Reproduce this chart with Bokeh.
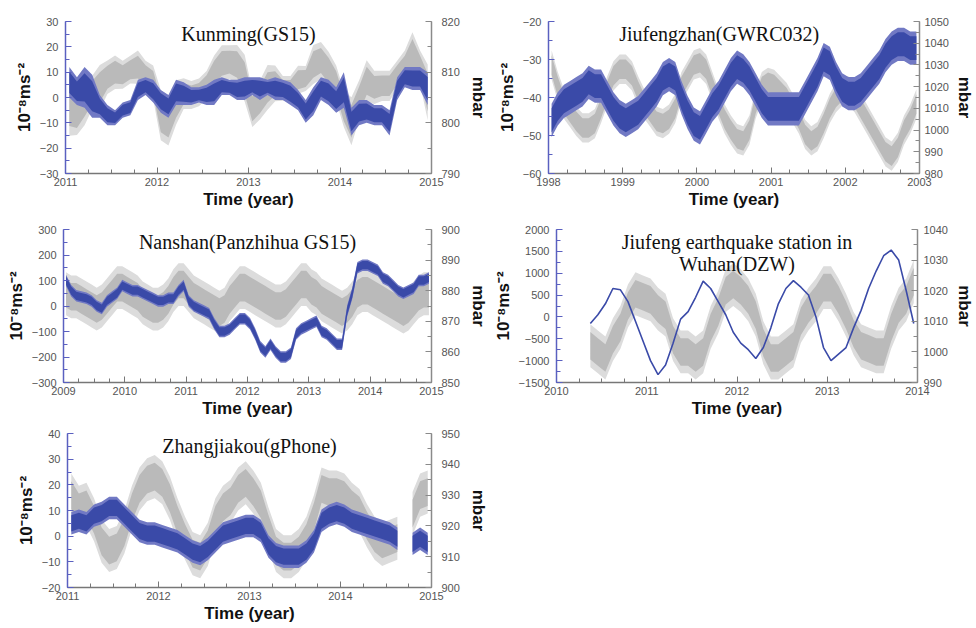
import math
from bokeh.plotting import figure
from bokeh.models import (Range1d, LinearAxis, SingleIntervalTicker, Label)
from bokeh.layouts import column, row
from bokeh.embed import file_html
from bokeh.resources import INLINE

nan = float("nan")

# ---------------- data ----------------
# Kunming(GS15): monthly Jan 2011 .. Dec 2014 (low / high of the noisy trace)
KM_START = 2011
KM_BLUE_HI = [12, 8, 12, 9, 1, -3, -5, -2, -1, 7, 8, 7,
              3, 1, 7, 6, 4, 4, 5, 7, 8, 7, 7, 8,
              8, 8, 7, 8, 7, 6, 3, -1, 4, 8, 7, 4,
              10, -4, -1, -1, -3, -3, -5, 8, 12, 12, 12, 10]
KM_BLUE_LO = [0, -3, -4, -8, -8, -11, -11, -8, -7, -1, 1, -2,
              -6, -8, -3, -3, -3, -2, -3, -3, 1, 1, -1, -1,
              1, -1, 1, -1, -1, -3, -5, -10, -7, -1, -3, -6,
              -4, -15, -11, -10, -11, -11, -15, -1, 4, 3, 3, -3]
KM_GRAY_HI = [809, 806, 810, 809, 811, 812, 813, 812, 813, 814, 812, 811,
              806, 805, 808, 808.5, 808, 808.5, 810, 813, 815, 815, 815, 813,
              806, 808, 811, 811, 809, 809, 811, 811, 815, 815.6, 813.7, 811,
              806, 804.6, 808, 812, 810, 810, 810, 812, 814, 817.5, 814, 811]
KM_GRAY_LO = [798, 798, 800, 803, 803, 806, 807, 807, 808, 808, 807, 805,
              797, 796, 800, 803, 803, 803.5, 805, 807, 808.5, 809, 808, 804.6,
              799.5, 801, 803, 804.6, 804.6, 804.6, 806, 806.5, 808, 809, 807, 804.6,
              799.5, 796, 801, 804.6, 804, 804.6, 804.6, 807, 808, 810, 808, 801]

# Jiufengzhan(GWRC032): monthly Jan 1998 .. Dec 2002 (centres) + half spread
JF_START = 1998
JF_BLUE = [-46, -43, -41, -40, -39, -38, -36, -37, -37, -40, -43, -45,
           -46, -45, -44, -42, -40, -38, -35, -34, -35, -40, -44, -47,
           -48, -45, -42, -40, -37, -34, -32, -33, -35, -38, -41, -43,
           -43, -43, -43, -43, -43, -40, -37, -34, -30, -31, -35, -38,
           -39, -39, -38, -36, -34, -32, -29, -27, -26, -26, -27, -27]
JF_BLUE_SPREAD = 3.5
JF_GRAY = [1030, 1020, 1012, 1008, 1004, 1001, 1001, 1003, 1010, 1018, 1025, 1028,
           1028, 1025, 1018, 1012, 1008, 1004, 1003, 1005, 1010, 1020, 1025, 1030,
           1031, 1028, 1020, 1012, 1005, 1000, 996, 995, 1000, 1012, 1020, 1022,
           1021, 1018, 1015, 1010, 1005, 998, 995, 997, 1003, 1010, 1015, 1018,
           1018, 1015, 1010, 1005, 1000, 995, 990, 988, 992, 1000, 1005, 1012]
JF_GRAY_SPREAD = 5

# Nanshan(Panzhihua GS15): monthly Jan 2009 .. Dec 2014
NS_START = 2009
NS_BLUE = [100, 60, 40, 35, 30, 20, 0, -10, 20, 35, 50, 80,
           70, 60, 60, 50, 40, 30, 20, 20, 30, 30, 60, 80,
           20, 0, -10, -20, -30, -70, -100, -100, -90, -70, -50, -50,
           -70, -110, -160, -180, -150, -180, -200, -200, -185, -110, -90, -80,
           -70, -60, -100, -110, -130, -150, -150, -20, 50, 150, 160, 160,
           150, 140, 110, 100, 80, 60, 50, 60, 70, 100, 100, 110]
NS_BLUE_SPREAD = 18
NS_GRAY = [879, 878, 878, 877, 876, 875, 874, 875, 877, 879, 881, 881,
           880, 879, 878, 876, 875, 874, 874, 875, 877, 880, 882, 882,
           880, 878, 877, 876, 875, 874, 873, 874, 877, 879, 881, 881,
           880, 879, 878, 877, 876, 875, 875, 876, 878, 880, 882, 882,
           880, 879, 877, 876, 875, 874, 873, 874, 876, 879, 880, 880,
           879, 878, 877, 876, 875, 874, 873, 874, 876, 878, 879, 879]
NS_GRAY_SPREAD = 5

# Jiufeng earthquake station in Wuhan(DZW): monthly May 2010 .. Dec 2013
DZW_START = 2010 + 4 / 12
DZW_BLUE = [-150, 50, 300, 650, 620, 350, -100, -550,
            -1000, -1320, -1100, -600, -50, 120, 450, 820, 650, 350, 50, -350,
            -600, -750, -950, -700, -250, 300, 650, 830, 680, 500, 0, -700,
            -1000, -850, -700, -250, 150, 650, 1050, 1400, 1530, 1300, 600, -150]
DZW_GRAY = [1002, 1000, 998, 1004, 1008, 1015, 1019, 1018,
            1017, 1014, 1012, 1004, 1000, 1000, 998, 1000, 1008, 1013, 1020, 1022,
            1020, 1017, 1012, 1003, 998, 998, 1000, 1002, 1010, 1014, 1017, 1021,
            1021, 1017, 1012, 1006, 1002, 1001, 1000, 1000, 1008, 1014, 1017, 1023]
DZW_GRAY_SPREAD = 5

# Zhangjiakou(gPhone): monthly Jan 2011 .. Dec 2014 (gap Sep 2014)
ZJ_START = 2011
ZJ_BLUE = [5, 6, 5, 8, 9, 11, 11, 8, 5, 2, 1, 1,
           0, -1, -2, -4, -6, -7, -5, -2, 1, 2, 3, 4,
           4, 2, -4, -7, -8, -8, -8, -6, -2, 6, 8, 9,
           8, 6, 5, 4, 3, 2, 1, -1, nan, -3, -1, -3]
ZJ_BLUE_SPREAD = 3.5
ZJ_GRAY = [930, 926, 927, 922, 915, 912, 913, 918, 926, 932, 935, 936,
           934, 929, 922, 916, 911, 910, 914, 922, 926, 928, 932, 934,
           931, 927, 919, 912, 910, 910, 912, 916, 923, 932, 931, 931,
           930, 927, 925, 920, 916, 914, 915, 916, nan, 924, 930, 931]
ZJ_GRAY_SPREAD = 5

# ---------------- styling ----------------
BLUE = "#3a4aa8"
BLUE_FRINGE = "#7179c4"
GRAY = "#bababa"
GRAY_FRINGE = "#dcdcdc"
LEFT_AXIS = "#5a60c0"
RIGHT_AXIS = "#8a8a8a"
TICK_TXT = "#555555"
SANS = "Liberation Sans"
SERIF = "Liberation Serif"
YLABEL = "10\u207b\u2078ms\u207b\u00b2"


def months(start, n):
    return [start + (i + 0.5) / 12 for i in range(n)]


def runs(xs, lo, hi):
    out, cur = [], ([], [], [])
    for x, a, b in zip(xs, lo, hi):
        if math.isnan(a) or math.isnan(b):
            if cur[0]:
                out.append(cur)
            cur = ([], [], [])
        else:
            cur[0].append(x); cur[1].append(a); cur[2].append(b)
    if cur[0]:
        out.append(cur)
    return out


def band(p, xs, lo, hi, color, fringe, k_in, k_out, y_range_name="default"):
    # lighter outer fringe (noise spikes) + solid core band
    c = [(a + b) / 2 for a, b in zip(lo, hi)]
    h = [(b - a) / 2 for a, b in zip(lo, hi)]
    for k, col in ((k_out, fringe), (k_in, color)):
        l2 = [ci - k * hh for ci, hh in zip(c, h)]
        h2 = [ci + k * hh for ci, hh in zip(c, h)]
        for rx, rl, rh in runs(xs, l2, h2):
            p.varea(x=rx, y1=rl, y2=rh, fill_color=col, y_range_name=y_range_name)


def centred(vals, s):
    return [v - s for v in vals], [v + s for v in vals]


def make_panel(xr, yl, yl_step, yr, yr_step, width, height, borders,
               rl_standoff=8, rax_standoff=5):
    top, right, bottom, left = borders
    p = figure(width=width, height=height, output_backend="svg",
               toolbar_location=None, x_range=Range1d(*xr), y_range=Range1d(*yl),
               min_border_top=top, min_border_right=right,
               min_border_bottom=bottom, min_border_left=left,
               x_axis_label="Time (year)", y_axis_label=YLABEL)
    p.extra_y_ranges = {"p": Range1d(*yr)}
    p.outline_line_color = None
    p.grid.visible = False
    p.background_fill_color = "white"
    p.border_fill_color = "white"

    xa = p.xaxis[0]
    xa.ticker = SingleIntervalTicker(interval=1, num_minor_ticks=4)
    ya = p.yaxis[0]
    ya.ticker = SingleIntervalTicker(interval=yl_step, num_minor_ticks=2)
    ra = LinearAxis(y_range_name="p", axis_label="mbar",
                    ticker=SingleIntervalTicker(interval=yr_step, num_minor_ticks=2))
    p.add_layout(ra, "right")

    for ax, col in ((xa, "#777777"), (ya, LEFT_AXIS), (ra, RIGHT_AXIS)):
        ax.axis_line_color = col
        ax.axis_line_width = 1.5
        ax.major_tick_line_color = col
        ax.minor_tick_line_color = col
        ax.major_tick_in = 6
        ax.major_tick_out = 0
        ax.minor_tick_in = 4
        ax.minor_tick_out = 0
        ax.major_label_text_font = SANS
        ax.major_label_text_font_size = "11px"
        ax.major_label_text_color = TICK_TXT
        ax.axis_label_text_font = SANS
        ax.axis_label_text_font_style = "bold"
        ax.axis_label_text_font_size = "17px"
        ax.axis_label_text_color = "#111111"
    xa.major_label_standoff = 4
    xa.axis_label_standoff = 1
    ya.major_label_standoff = 7
    ya.axis_label_standoff = 3
    ra.major_label_standoff = rl_standoff
    ra.axis_label_standoff = rax_standoff
    return p


def title(p, text, x, y, dy=-1):
    # annotations are clipped to the frame, so the title sits just inside its top edge
    p.add_layout(Label(x=x, y=y, y_offset=dy, text=text, text_align="center",
                       text_baseline="top", text_font=SERIF,
                       text_font_size="20px", text_color="#111111"))


# ---------- Panel 1: Kunming ----------
p1 = make_panel((2011, 2015), (-30, 30), 10, (790, 820), 10, 490, 214, (21, 55, 38, 65),
                rl_standoff=10, rax_standoff=6)
x = months(KM_START, len(KM_BLUE_HI))
band(p1, x, KM_GRAY_LO, KM_GRAY_HI, GRAY, GRAY_FRINGE, 0.75, 1.1, y_range_name="p")
band(p1, x, KM_BLUE_LO, KM_BLUE_HI, BLUE, BLUE_FRINGE, 0.7, 1.0)
title(p1, "Kunming(GS15)", 2013, 30)

# ---------- Panel 2: Jiufengzhan ----------
p2 = make_panel((1998, 2003), (-60, -20), 10, (980, 1050), 10, 486, 214, (19, 56, 41, 58),
                rl_standoff=5, rax_standoff=3)
x = months(JF_START, len(JF_BLUE))
lo, hi = centred(JF_GRAY, JF_GRAY_SPREAD)
band(p2, x, lo, hi, GRAY, GRAY_FRINGE, 0.9, 1.35, y_range_name="p")
lo, hi = centred(JF_BLUE, JF_BLUE_SPREAD)
band(p2, x, lo, hi, BLUE, BLUE_FRINGE, 0.9, 1.25)
title(p2, "Jiufengzhan(GWRC032)", 2000.3, -20)

# ---------- Panel 3: Nanshan ----------
p3 = make_panel((2009, 2015), (-300, 300), 100, (850, 900), 10, 490, 207, (15, 57, 38, 63),
                rl_standoff=10, rax_standoff=6)
x = months(NS_START, len(NS_BLUE))
lo, hi = centred(NS_GRAY, NS_GRAY_SPREAD)
band(p3, x, lo, hi, GRAY, GRAY_FRINGE, 0.9, 1.4, y_range_name="p")
lo, hi = centred(NS_BLUE, NS_BLUE_SPREAD)
band(p3, x, lo, hi, BLUE, BLUE_FRINGE, 0.9, 1.25)
title(p3, "Nanshan(Panzhihua GS15)", 2012, 300)

# ---------- Panel 4: DZW ----------
p4 = make_panel((2010, 2014), (-1500, 2000), 500, (990, 1040), 10, 486, 207, (14, 58, 39, 60),
                rl_standoff=6, rax_standoff=4)
x = months(DZW_START, len(DZW_BLUE))
lo, hi = centred(DZW_GRAY, DZW_GRAY_SPREAD)
band(p4, x, lo, hi, GRAY, GRAY_FRINGE, 0.9, 1.4, y_range_name="p")
p4.line(x=x, y=DZW_BLUE, line_color=BLUE, line_width=1.6)
title(p4, "Jiufeng earthquake station in", 2012, 2000)
title(p4, "Wuhan(DZW)", 2012, 2000, -23)

# ---------- Panel 5: Zhangjiakou ----------
p5 = make_panel((2011, 2015), (-20, 40), 10, (900, 950), 10, 490, 206, (12, 55, 40, 67),
                rl_standoff=10, rax_standoff=6)
x = months(ZJ_START, len(ZJ_BLUE))
lo, hi = centred(ZJ_GRAY, ZJ_GRAY_SPREAD)
band(p5, x, lo, hi, GRAY, GRAY_FRINGE, 0.9, 1.4, y_range_name="p")
lo, hi = centred(ZJ_BLUE, ZJ_BLUE_SPREAD)
band(p5, x, lo, hi, BLUE, BLUE_FRINGE, 0.9, 1.25)
title(p5, "Zhangjiakou(gPhone)", 2013, 40)

layout = column(row(p1, p2), row(p3, p4), row(p5))
open("out.html", "w").write(file_html(layout, INLINE))
